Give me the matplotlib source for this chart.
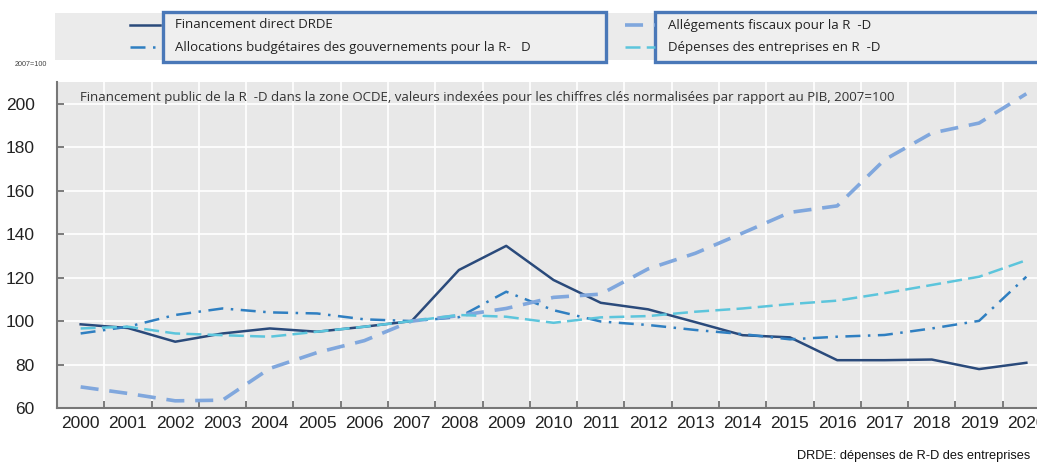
import matplotlib.pyplot as plt
from matplotlib.patches import Rectangle
from matplotlib.lines import Line2D

years = list(range(2000, 2021))

financement_direct = [98.5, 96.8, 90.5, 94.3, 96.6, 95.1, 97.4, 100, 123.5, 134.6, 118.9,
                      108.4, 105.4, 99.5, 93.5, 92.5, 82.0, 82.0, 82.3, 77.9, 80.8]
allocations = [94.3, 97.4, 102.8, 105.8, 104.0, 103.5, 100.8, 100, 101.8, 113.5, 105.0,
               99.8, 98.2, 95.9, 94.0, 91.6, 92.8, 93.6, 96.6, 100.1, 120.4]
allegements = [69.7, 66.7, 63.3, 63.6, 78.2, 85.5, 91.0, 100, 102.5, 105.8, 110.9,
               112.4, 124.0, 131.2, 140.5, 150.0, 153.0, 174.2, 186.5, 191.1, 204.6]
depenses = [96.6, 97.4, 94.3, 93.5, 92.8, 95.1, 97.4, 100, 102.8, 102.0, 99.2,
            101.7, 102.3, 104.3, 105.8, 107.8, 109.4, 112.8, 116.6, 120.4, 128.0]

labels = ["Financement direct DRDE",
          "Allocations budgétaires des gouvernements pour la R-   D",
          "Allégements fiscaux pour la R  -D",
          "Dépenses des entreprises en R  -D"]

W, H = 1037, 465
fig = plt.figure(figsize=(W / 100, H / 100), dpi=100)

def fx(px):
    return px / W

def fy(py):
    return 1 - py / H

styles = [
    dict(color="#2a4a7b", lw=1.8, ls="-"),
    dict(color="#2f7fc1", lw=1.8, ls=(0, (6, 3, 1, 3))),
    dict(color="#80a7dd", lw=2.6, ls=(0, (5, 3))),
    dict(color="#5cc5dc", lw=1.8, ls=(0, (6, 2.5))),
]

bg = "#e8e8e8"
ax = fig.add_axes([fx(57), fy(408), fx(1050) - fx(57), fy(82) - fy(408)])
ax.set_facecolor(bg)
x = list(range(len(years)))
series = [financement_direct, allocations, allegements, depenses]
for vals, st in zip(series, styles):
    ax.plot(x, vals, **st)

ax.set_xlim(-0.5, len(years) - 0.5)
ax.set_ylim(60, 210)
ax.set_yticks(range(60, 201, 20))
ax.set_xticks([i + 0.5 for i in x[:-1]], minor=False)
ax.set_xticklabels([])
ax.set_xticks(x, minor=True)
ax.set_xticklabels([str(y) for y in years], minor=True)
ax.grid(True, which="major", color="white", lw=1.2)
ax.set_axisbelow(True)
ax.tick_params(axis="x", which="minor", length=0, labelsize=12.5, pad=6)
ax.tick_params(axis="x", which="major", direction="in", length=5, color="#666666", width=1.2)
ax.tick_params(axis="y", direction="in", length=5, color="#666666", width=1.2, labelsize=12.5, pad=16)
for lab in ax.get_xticklabels(minor=True) + ax.get_yticklabels():
    lab.set_family("Liberation Sans")
    lab.set_color("#222222")
for s in ["top", "right"]:
    ax.spines[s].set_visible(False)
for s in ["left", "bottom"]:
    ax.spines[s].set_color("#777777")
    ax.spines[s].set_linewidth(1.5)

fig.text(fx(80), fy(97),
         "Financement public de la R  -D dans la zone OCDE, valeurs indexées pour les chiffres clés normalisées par rapport au PIB, 2007=100",
         family="Open Sans", fontsize=9.55, color="#333333", va="center")

# legend band
fig.patches.append(Rectangle((fx(55), fy(60)), fx(1037) - fx(55), fy(13) - fy(60),
                             transform=fig.transFigure, facecolor="#ebebeb", edgecolor="none", zorder=0))
for x0, x1 in [(163, 606), (655, 1045)]:
    fig.patches.append(Rectangle((fx(x0), fy(62)), fx(x1) - fx(x0), fy(12) - fy(62),
                                 transform=fig.transFigure, facecolor="#efefef",
                                 edgecolor="#4a78b8", lw=2.4, zorder=1))
pos = [(130, 160, 175, 25), (130, 160, 175, 47), (625, 655, 668, 25), (625, 655, 668, 47)]
for (a, b, t, yy), st, lab in zip(pos, styles, labels):
    fig.add_artist(Line2D([fx(a), fx(b)], [fy(yy), fy(yy)], transform=fig.transFigure, **st))
    fig.text(fx(t), fy(yy), lab, family="Open Sans", fontsize=9.5, color="#222222", va="center")

fig.text(fx(15), fy(65), "2007=100", family="Liberation Sans", fontsize=5.2, color="#444444", va="center")
fig.text(fx(1030), fy(456), "DRDE: dépenses de R-D des entreprises", family="Liberation Sans",
         fontsize=9.2, color="#111111", ha="right", va="center")

fig.savefig("out.png", dpi=100)
